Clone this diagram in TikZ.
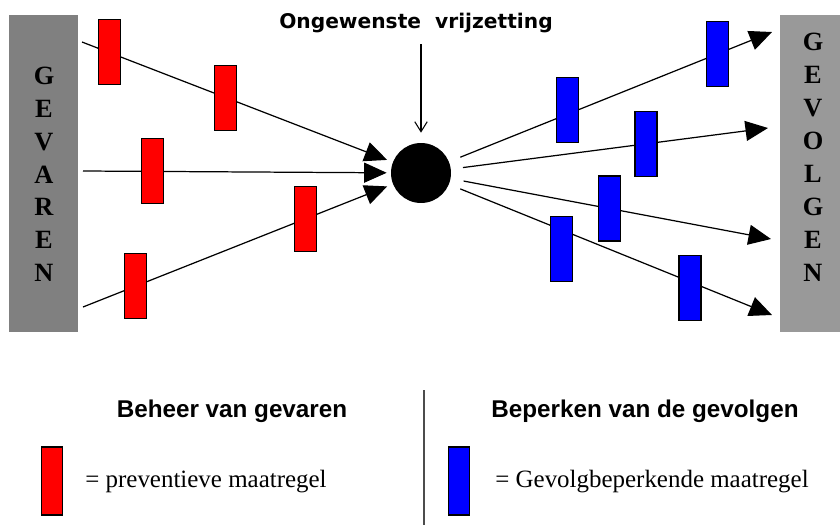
\documentclass[tikz,border=0pt]{standalone}
\usepackage{fontspec}
\setmainfont{Liberation Serif}
\setsansfont{Liberation Sans}
\newfontfamily\kopfont{DejaVu Sans}
\usetikzlibrary{arrows.meta}

\begin{document}
\begin{tikzpicture}[x=0.02cm,y=-0.02cm]
        \tikzset{maatregel/.style={draw,line width=0.6pt,minimum width=0.44cm,
            minimum height=1.3cm,inner sep=0pt},
          rood/.style={maatregel,fill=red},
          blauw/.style={maatregel,fill=blue},
          pijl/.style={line width=0.7pt,-{Triangle[length=0.45cm,width=0.4cm]}},
          balk/.style={minimum height=6.34cm,inner sep=0pt},
          letter/.style={font=\fontsize{15}{15}\selectfont\bfseries},
          kop/.style={font=\sffamily\bfseries\fontsize{13.8}{15}\selectfont},
          uitleg/.style={font=\fontsize{14.2}{16}\selectfont,anchor=west,inner sep=0pt}}
        \useasboundingbox (0,0) rectangle (840,525);
        % zijbalken
        \node[balk,fill=gray,minimum width=1.38cm] (gevaren) at (43.5,173.5) {};
        \node[balk,fill=gray!80,minimum width=1.2cm] (gevolgen) at (810,173.5) {};
        \foreach \l [count=\i] in {G,E,V,A,R,E,N}
          \node[letter] (gv\i) at (44,{76+32.8*(\i-1)}) {\l};
        \foreach \l [count=\i] in {G,E,V,O,L,G,E,N}
          \node[letter] (gg\i) at (813,{42+33*(\i-1)}) {\l};
        % vrijzetting
        \node[circle,fill=black,minimum size=1.2cm,inner sep=0pt] (vrij) at (421,173) {};
        \node[font=\kopfont\bfseries\fontsize{11.5}{13}\selectfont] (titel) at (416,23)
          {Ongewenste\ \ vrijzetting};
        \draw[line width=0.6pt,-{Straight Barb[length=0.2cm,width=0.25cm]},
          shorten <=0.1cm,shorten >=0.2cm] (vrij |- titel.south) -- (vrij.north);
        % gevaren
        \coordinate (h1) at (82,42);
        \coordinate (h2) at (83,171);
        \coordinate (h3) at (83,307);
        \draw[pijl,shorten >=0.12cm] (h1) -- (vrij)
          node[rood,pos=0.087] (r1) {} node[rood,pos=0.463] (r2) {};
        \draw[pijl,shorten >=0.08cm] (h2) -- (vrij)
          node[rood,pos=0.227] (r3) {};
        \draw[pijl,shorten >=0.12cm] (h3) -- (vrij)
          node[rood,pos=0.168] (r4) {} node[rood,pos=0.719] (r5) {};
        % gevolgen
        \coordinate (g1) at (772,32);
        \coordinate (g2) at (768,128);
        \coordinate (g3) at (771,239);
        \coordinate (g4) at (772,315);
        \draw[pijl,shorten <=0.24cm] (vrij) -- (g1)
          node[blauw,pos=0.366,yshift=0.08cm] (b1) {} node[blauw,pos=0.83] (b2) {};
        \draw[pijl,shorten <=0.24cm] (vrij) -- (g2)
          node[blauw,pos=0.615] (b3) {};
        \draw[pijl,shorten <=0.26cm] (vrij) -- (g3)
          node[blauw,pos=0.495] (b4) {};
        \draw[pijl,shorten <=0.24cm] (vrij) -- (g4)
          node[blauw,pos=0.347,yshift=-0.39cm] (b5) {} node[blauw,pos=0.746,yshift=-0.12cm] (b6) {};
        % legenda
        \draw[line width=0.8pt,black!70] (424,390) -- (424,525);
        \node[kop] (kop1) at (232,411) {Beheer van gevaren};
        \node[kop] (kop2) at (645,411) {Beperken van de gevolgen};
        \node[rood,minimum width=0.42cm,minimum height=1.36cm] (lr) at (52,481) {};
        \node[uitleg] (ltr) at (85,482) {= preventieve maatregel};
        \node[blauw,minimum width=0.42cm,minimum height=1.36cm] (lb) at (459,481) {};
        \node[uitleg] (ltb) at (495,482) {= Gevolgbeperkende maatregel};
      \end{tikzpicture}
\end{document}
